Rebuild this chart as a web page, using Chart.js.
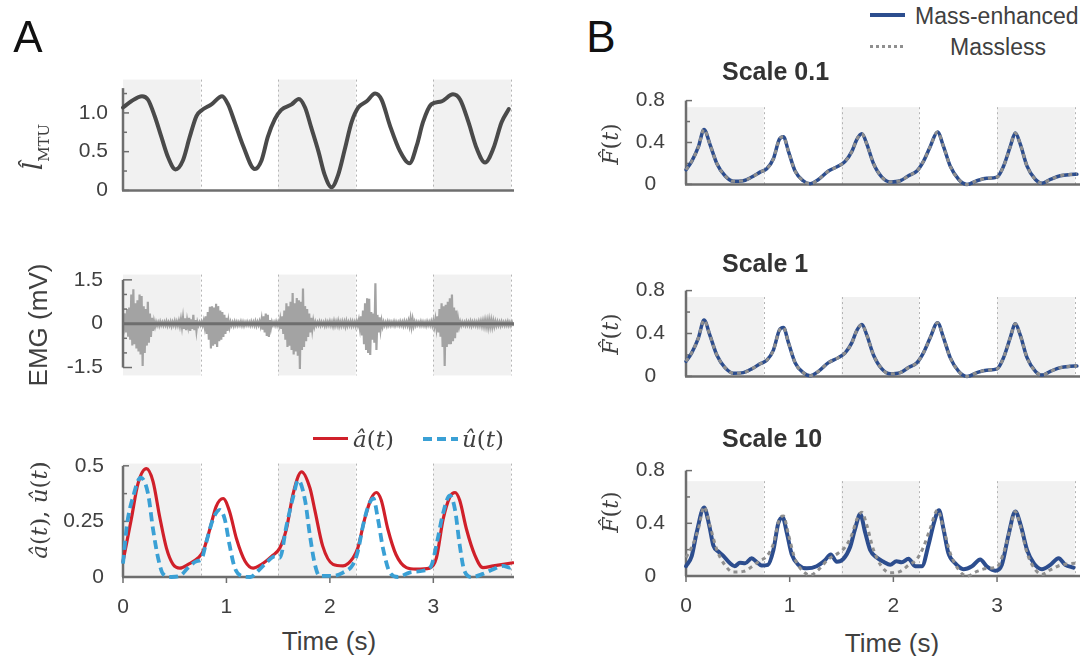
<!DOCTYPE html>
<html>
<head>
<meta charset="utf-8">
<title>Muscle model: activation and force</title>
<script src="https://cdn.jsdelivr.net/npm/chart.js@4.4.1/dist/chart.umd.min.js"></script>
<style>
  html, body { margin: 0; background: #fff; }
  #fig { position: relative; width: 1089px; height: 656px; overflow: hidden;
         font-family: 'Liberation Sans', Arial, sans-serif; color: #404040; }
  #fig canvas { position: absolute; }
  .lbl { position: absolute; white-space: nowrap; line-height: 1; }
  .c { transform: translate(-50%, -50%); }
  .cy { transform: translateY(-50%); }
  .rot { transform: translate(-50%, -50%) rotate(-90deg); }
  .math { font-family: 'DejaVu Serif', 'Liberation Serif', serif; }
  .panel { font-size: 44px; color: #111; }
  .stitle { font-size: 25px; font-weight: bold; color: #333; }
  .axt { font-size: 26px; }
  .leg { font-size: 23px; }
  .swatch { position: absolute; width: 35px; }
</style>
</head>
<body>
<div id="fig">
  <canvas id="cLen" width="514" height="150" style="left:0;top:60px"></canvas>
  <canvas id="cEmg" width="514" height="150" style="left:0;top:250px"></canvas>
  <canvas id="cAct" width="514" height="180" style="left:0;top:440px"></canvas>
  <canvas id="cF01" width="520" height="135" style="left:560px;top:75px"></canvas>
  <canvas id="cF1" width="520" height="137" style="left:560px;top:265px"></canvas>
  <canvas id="cF10" width="520" height="175" style="left:560px;top:445px"></canvas>

  <div class="lbl panel c" style="left:28px;top:37px">A</div>
  <div class="lbl panel c" style="left:601px;top:37px">B</div>

  <div class="lbl rot math" style="left:36px;top:147px;font-size:26px"><i>l&#770;</i><sub style="font-size:15px">MTU</sub></div>
  <div class="lbl rot axt" style="left:38px;top:325px">EMG (mV)</div>
  <div class="lbl rot math" style="left:39px;top:510px;font-size:23px"><i>â</i>(<i>t</i>), <i>û</i>(<i>t</i>)</div>
  <div class="lbl axt c" style="left:329px;top:641px">Time (s)</div>

  <div class="swatch" style="left:313px;top:437px;height:3px;background:#d0202a"></div>
  <div class="lbl math leg cy" style="left:353px;top:439px"><i>â</i>(<i>t</i>)</div>
  <div class="swatch" style="left:423px;top:437px;height:4px;background:repeating-linear-gradient(to right,#3aa0d5 0 9px,transparent 9px 14px)"></div>
  <div class="lbl math leg cy" style="left:462px;top:439px"><i>û</i>(<i>t</i>)</div>

  <div class="swatch" style="left:870px;top:13px;height:4px;background:#2c4d8e"></div>
  <div class="lbl leg cy" style="left:915px;top:16px">Mass-enhanced</div>
  <div class="swatch" style="left:870px;top:45px;height:3px;background:repeating-linear-gradient(to right,#8f8f8f 0 3px,transparent 3px 6px)"></div>
  <div class="lbl leg c" style="left:998px;top:47px">Massless</div>

  <div class="lbl stitle cy" style="left:722px;top:71px">Scale 0.1</div>
  <div class="lbl stitle cy" style="left:722px;top:263px">Scale 1</div>
  <div class="lbl stitle cy" style="left:722px;top:438px">Scale 10</div>
  <div class="lbl rot math" style="left:611px;top:144px;font-size:22px"><i>F&#770;</i>(<i>t</i>)</div>
  <div class="lbl rot math" style="left:611px;top:334px;font-size:22px"><i>F&#770;</i>(<i>t</i>)</div>
  <div class="lbl rot math" style="left:611px;top:512px;font-size:22px"><i>F&#770;</i>(<i>t</i>)</div>
  <div class="lbl axt c" style="left:892px;top:643px">Time (s)</div>
</div>

<script>
// gait phases (shaded) and time axis
const phaseBands = [[0, 0.75], [1.5, 2.25], [3.0, 3.75]];
const phaseEdges = [0.75, 1.5, 2.25, 3.0, 3.75];
const timeTicks = [0, 1, 2, 3];

// normalised MTU length
const lenTime = [0, 0.08, 0.184, 0.242, 0.306, 0.371, 0.435, 0.507, 0.58, 0.645,
  0.71, 0.758, 0.855, 0.958, 1.016, 1.08, 1.16, 1.275, 1.34, 1.40,
  1.468, 1.53, 1.63, 1.70, 1.76, 1.82, 1.89, 1.95, 2.016, 2.08,
  2.146, 2.21, 2.275, 2.356, 2.437, 2.50, 2.58, 2.68, 2.77, 2.84,
  2.90, 2.98, 3.08, 3.19, 3.26, 3.34, 3.42, 3.50, 3.58, 3.66, 3.73];
const lenValue = [1.07, 1.15, 1.216, 1.17, 0.96, 0.69, 0.43, 0.27, 0.39, 0.69,
  0.96, 1.03, 1.11, 1.216, 1.11, 0.88, 0.58, 0.276, 0.39, 0.69,
  0.92, 1.04, 1.11, 1.18, 1.07, 0.81, 0.50, 0.20, 0.04, 0.20,
  0.54, 0.88, 1.07, 1.15, 1.25, 1.17, 0.84, 0.50, 0.35, 0.58,
  0.88, 1.11, 1.15, 1.24, 1.17, 0.88, 0.54, 0.36, 0.54, 0.88, 1.05];
const lenTicks = [0, 0.5, 1.0];
const lenTickLabels = ['0', '0.5', '1.0'];
const lenMinor = [0.25, 0.75, 1.25];

// EMG envelope, one high/low pair every emgStep seconds
const emgStep = 0.02;
const emgHigh = [
  0.10, 0.35, 0.50, 0.55, 1.00, 1.18, 0.70, 0.80, 1.00, 0.95,
  0.60, 0.50, 0.75, 0.35, 0.20, 0.08, 0.06, 0.05, 0.07, 0.05,
  0.06, 0.08, 0.05, 0.07, 0.06, 0.09, 0.07, 0.10, 0.15, 0.20,
  0.18, 0.12, 0.20, 0.15, 0.30, 0.12, 0.06, 0.05, 0.07, 0.10,
  0.25, 0.40, 0.58, 0.60, 0.55, 0.68, 0.60, 0.45, 0.40, 0.30,
  0.20, 0.10, 0.06, 0.05, 0.07, 0.06, 0.05, 0.07, 0.06, 0.05,
  0.06, 0.05, 0.07, 0.06, 0.08, 0.06, 0.08, 0.15, 0.25, 0.35,
  0.30, 0.12, 0.06, 0.05, 0.07, 0.06, 0.15, 0.25, 0.45, 0.70,
  0.60, 0.75, 1.05, 0.70, 0.88, 0.80, 0.75, 1.20, 0.60, 0.50,
  0.35, 0.20, 0.10, 0.06, 0.05, 0.07, 0.06, 0.05, 0.07, 0.06,
  0.08, 0.06, 0.09, 0.07, 0.10, 0.06, 0.08, 0.07, 0.09, 0.06,
  0.08, 0.07, 0.06, 0.08, 0.12, 0.25, 0.45, 0.70, 0.87, 0.85,
  0.40, 0.35, 1.38, 0.30, 0.22, 0.10, 0.06, 0.05, 0.07, 0.06,
  0.05, 0.07, 0.06, 0.05, 0.07, 0.06, 0.08, 0.07, 0.10, 0.18,
  0.15, 0.07, 0.06, 0.05, 0.07, 0.06, 0.05, 0.07, 0.06, 0.08,
  0.10, 0.15, 0.25, 0.50, 0.70, 0.60, 0.65, 0.75, 0.87, 1.00,
  0.55, 0.45, 0.15, 0.07, 0.06, 0.05, 0.07, 0.06, 0.08, 0.06,
  0.07, 0.06, 0.08, 0.09, 0.10, 0.12, 0.11, 0.13, 0.12, 0.10,
  0.08, 0.07, 0.06, 0.07, 0.05, 0.06, 0.07, 0.05, 0.06];
const emgLow = [
  -0.10, -0.30, -0.45, -0.55, -0.75, -0.70, -0.85, -0.95, -1.05, -1.45,
  -1.00, -0.75, -0.65, -0.45, -0.25, -0.10, -0.06, -0.07, -0.05, -0.06,
  -0.05, -0.07, -0.06, -0.08, -0.05, -0.07, -0.06, -0.08, -0.12, -0.18,
  -0.22, -0.10, -0.25, -0.18, -0.22, -0.25, -0.06, -0.05, -0.06, -0.12,
  -0.35, -0.55, -0.85, -0.75, -0.70, -0.80, -0.60, -0.55, -0.45, -0.35,
  -0.25, -0.12, -0.06, -0.07, -0.05, -0.06, -0.05, -0.06, -0.07, -0.05,
  -0.05, -0.06, -0.05, -0.06, -0.07, -0.05, -0.08, -0.20, -0.30, -0.42,
  -0.45, -0.15, -0.05, -0.06, -0.06, -0.07, -0.18, -0.35, -0.55, -0.80,
  -0.75, -0.90, -1.05, -0.95, -1.10, -1.55, -0.90, -0.80, -0.60, -0.45,
  -0.30, -0.20, -0.10, -0.06, -0.05, -0.06, -0.05, -0.07, -0.06, -0.05,
  -0.06, -0.08, -0.07, -0.06, -0.08, -0.07, -0.06, -0.09, -0.07, -0.06,
  -0.07, -0.06, -0.08, -0.06, -0.15, -0.40, -0.70, -0.90, -1.00, -1.07,
  -0.55, -0.65, -0.90, -0.30, -0.20, -0.10, -0.06, -0.07, -0.05, -0.06,
  -0.05, -0.06, -0.05, -0.06, -0.05, -0.07, -0.06, -0.06, -0.08, -0.10,
  -0.08, -0.06, -0.05, -0.06, -0.05, -0.06, -0.07, -0.05, -0.06, -0.07,
  -0.10, -0.15, -0.30, -0.45, -0.80, -1.45, -0.80, -0.70, -0.70, -0.60,
  -0.50, -0.30, -0.10, -0.06, -0.05, -0.06, -0.05, -0.06, -0.07, -0.05,
  -0.06, -0.07, -0.06, -0.08, -0.09, -0.10, -0.12, -0.10, -0.11, -0.09,
  -0.07, -0.06, -0.07, -0.05, -0.06, -0.05, -0.06, -0.06, -0.05];
const emgTicks = [-1.5, 0, 1.5];
const emgTickLabels = ['-1.5', '0', '1.5'];
const emgMinor = [-1, -0.5, 0.5, 1];

// activation a(t) and excitation u(t)
const actTime = [0, 0.08, 0.145, 0.226, 0.29, 0.355, 0.42, 0.484, 0.55, 0.63,
  0.726, 0.774, 0.84, 0.90, 0.968, 1.03, 1.097, 1.18, 1.258, 1.34,
  1.436, 1.516, 1.58, 1.645, 1.726, 1.807, 1.855, 1.93, 2.03, 2.127,
  2.224, 2.27, 2.336, 2.40, 2.45, 2.497, 2.56, 2.64, 2.74, 2.836,
  2.965, 3.03, 3.095, 3.16, 3.21, 3.255, 3.32, 3.40, 3.48, 3.58, 3.675, 3.77];
const actValue = [0.07, 0.26, 0.42, 0.487, 0.43, 0.27, 0.13, 0.057, 0.04, 0.057,
  0.086, 0.115, 0.216, 0.317, 0.353, 0.295, 0.172, 0.071, 0.04, 0.057,
  0.093, 0.13, 0.216, 0.375, 0.473, 0.40, 0.30, 0.14, 0.057, 0.05,
  0.086, 0.13, 0.26, 0.353, 0.38, 0.345, 0.216, 0.10, 0.042, 0.035,
  0.04, 0.086, 0.26, 0.36, 0.38, 0.345, 0.216, 0.10, 0.042, 0.05, 0.057, 0.064];
const excTime = [0, 0.04, 0.097, 0.17, 0.242, 0.29, 0.339, 0.387, 0.468, 0.55,
  0.63, 0.71, 0.758, 0.806, 0.87, 0.936, 0.984, 1.03, 1.08, 1.145,
  1.23, 1.307, 1.40, 1.468, 1.516, 1.58, 1.645, 1.694, 1.76, 1.807,
  1.855, 1.90, 2.03, 2.127, 2.224, 2.27, 2.32, 2.37, 2.42, 2.465,
  2.513, 2.58, 2.66, 2.77, 2.90, 2.98, 3.03, 3.095, 3.16, 3.21,
  3.255, 3.30, 3.37, 3.48, 3.58, 3.675, 3.74, 3.77];
const excValue = [0.06, 0.24, 0.36, 0.447, 0.375, 0.216, 0.086, 0.014, 0.0, 0.005,
  0.042, 0.071, 0.08, 0.158, 0.26, 0.302, 0.26, 0.144, 0.042, 0.005,
  0.0, 0.028, 0.071, 0.093, 0.086, 0.23, 0.36, 0.435, 0.345, 0.187,
  0.057, 0.005, 0.005, 0.02, 0.057, 0.115, 0.23, 0.317, 0.353, 0.26,
  0.13, 0.02, 0.0, 0.02, 0.028, 0.05, 0.144, 0.288, 0.367, 0.302,
  0.144, 0.028, 0.0, 0.014, 0.035, 0.05, 0.042, 0.055];
const actTicks = [0, 0.25, 0.5];
const actTickLabels = ['0', '0.25', '0.5'];
const actMinor = [0.125, 0.375];

// normalised force; massless model is the same at every scale
const forceTime = [0, 0.055, 0.12, 0.174, 0.23, 0.297, 0.376, 0.457, 0.553, 0.634,
  0.714, 0.779, 0.843, 0.90, 0.94, 0.988, 1.052, 1.13, 1.197, 1.277,
  1.374, 1.47, 1.535, 1.60, 1.648, 1.696, 1.744, 1.808, 1.889, 1.97,
  2.066, 2.146, 2.227, 2.29, 2.355, 2.426, 2.484, 2.548, 2.63, 2.71,
  2.806, 2.90, 3.0, 3.063, 3.127, 3.176, 3.224, 3.289, 3.37, 3.433,
  3.514, 3.61, 3.707, 3.77];
const forceMassless = [0.14, 0.22, 0.36, 0.525, 0.385, 0.2, 0.082, 0.03, 0.035, 0.07,
  0.117, 0.15, 0.245, 0.43, 0.455, 0.315, 0.128, 0.035, 0.007, 0.047,
  0.128, 0.175, 0.22, 0.315, 0.43, 0.483, 0.385, 0.2, 0.07, 0.024,
  0.035, 0.082, 0.128, 0.22, 0.36, 0.50, 0.36, 0.175, 0.047, 0.0,
  0.035, 0.058, 0.07, 0.175, 0.36, 0.49, 0.385, 0.175, 0.047, 0.012,
  0.047, 0.082, 0.094, 0.097];
// mass-enhanced at scale 0.1 and 1 overlays the massless curve
const forceEnhanced01 = forceMassless;
const forceEnhanced1 = forceMassless;
const enh10Time = [0, 0.055, 0.103, 0.174, 0.225, 0.264, 0.312, 0.36, 0.425, 0.47,
  0.52, 0.57, 0.634, 0.68, 0.73, 0.79, 0.843, 0.89, 0.933, 0.972,
  1.02, 1.084, 1.165, 1.26, 1.34, 1.396, 1.454, 1.518, 1.583, 1.63,
  1.68, 1.728, 1.776, 1.84, 1.905, 1.97, 2.03, 2.08, 2.146, 2.21,
  2.275, 2.34, 2.39, 2.44, 2.484, 2.53, 2.597, 2.677, 2.758, 2.838,
  2.9, 2.983, 3.046, 3.11, 3.176, 3.23, 3.29, 3.355, 3.433, 3.514,
  3.594, 3.658, 3.738];
const forceEnhanced10 = [0.074, 0.15, 0.33, 0.52, 0.38, 0.23, 0.186, 0.153, 0.096, 0.074,
  0.10, 0.096, 0.135, 0.108, 0.08, 0.085, 0.197, 0.40, 0.444, 0.33,
  0.164, 0.085, 0.058, 0.074, 0.119, 0.164, 0.108, 0.13, 0.22, 0.355,
  0.47, 0.33, 0.197, 0.14, 0.108, 0.085, 0.112, 0.105, 0.13, 0.074,
  0.074, 0.24, 0.40, 0.50, 0.355, 0.175, 0.096, 0.052, 0.074, 0.126,
  0.074, 0.04, 0.085, 0.31, 0.49, 0.38, 0.197, 0.096, 0.052, 0.085,
  0.135, 0.085, 0.063];
const forceTicks = [0, 0.4, 0.8];
const forceTickLabels = ['0', '0.4', '0.8'];
const forceMinor = [0.2, 0.6];

const FONT = "'Liberation Sans', Arial, sans-serif";
const AXIS = '#6e6e6e';
const TEXT = '#404040';

function pairs(xs, ys) {
  const n = Math.min(xs.length, ys.length);
  const out = [];
  for (let i = 0; i < n; i++) out.push({ x: xs[i], y: ys[i] });
  return out;
}

function strokeLine(ctx, x0, y0, x1, y1) {
  ctx.beginPath();
  ctx.moveTo(x0, y0);
  ctx.lineTo(x1, y1);
  ctx.stroke();
}

// shaded phases, dashed phase edges and MATLAB-like axes
const framePlugin = {
  id: 'frame',
  beforeDatasetsDraw(chart, args, o) {
    const { ctx, scales: { x, y } } = chart;
    const top = y.getPixelForValue(o.bandTop);
    const bot = y.getPixelForValue(o.bandBottom);
    ctx.save();
    ctx.fillStyle = '#f1f1f1';
    phaseBands.forEach(([s, e]) => {
      const x0 = x.getPixelForValue(s), x1 = x.getPixelForValue(e);
      ctx.fillRect(x0, top, x1 - x0, bot - top);
    });
    ctx.strokeStyle = '#b4b4b4';
    ctx.lineWidth = 1;
    ctx.setLineDash([2, 3]);
    phaseEdges.forEach(t => {
      const px = Math.round(x.getPixelForValue(t)) + 0.5;
      strokeLine(ctx, px, top, px, bot);
    });
    ctx.restore();
    if (!o.axesOnTop) drawAxes(chart, o);
  },
  afterDatasetsDraw(chart, args, o) {
    if (o.axesOnTop) drawAxes(chart, o);
  }
};

function drawAxes(chart, o) {
  const { ctx, chartArea: a, scales: { x, y } } = chart;
  const left = a.left;
  const base = y.getPixelForValue(o.baseAt);
  ctx.save();
  ctx.strokeStyle = AXIS;
  ctx.lineWidth = o.baseWidth || 2.5;
  ctx.lineCap = 'butt';
  strokeLine(ctx, left - 1, base, a.right, base);
  ctx.lineWidth = 2.5;
  strokeLine(ctx, left, y.getPixelForValue(o.axisBottom), left, y.getPixelForValue(o.axisTop));
  ctx.lineWidth = 1.5;
  o.major.forEach(v => {
    const py = y.getPixelForValue(v);
    strokeLine(ctx, left, py, left + (o.capAt && o.capAt.includes(v) ? 9 : 6), py);
  });
  o.minor.forEach(v => {
    const py = y.getPixelForValue(v);
    strokeLine(ctx, left, py, left + 4, py);
  });
  if (o.xTicks) {
    timeTicks.forEach(t => {
      const px = x.getPixelForValue(t);
      strokeLine(ctx, px, base, px, base + 6);
    });
  }
  ctx.restore();
}

function makeChart(id, cfg) {
  return new Chart(document.getElementById(id), {
    type: 'line',
    data: { datasets: cfg.datasets },
    options: {
      responsive: false,
      animation: false,
      devicePixelRatio: 1,
      layout: { padding: { top: cfg.padTop, bottom: cfg.padBottom || 0, left: 0, right: 0 } },
      elements: {
        point: { radius: 0 },
        line: { cubicInterpolationMode: 'monotone', borderCapStyle: 'round', borderJoinStyle: 'round' }
      },
      plugins: { legend: { display: false }, tooltip: { enabled: false }, frame: cfg.frame },
      scales: {
        x: {
          type: 'linear', min: 0, max: cfg.xMax, display: !!cfg.showTime,
          grid: { display: false }, border: { display: false },
          afterBuildTicks: s => { s.ticks = timeTicks.map(v => ({ value: v })); },
          afterFit: s => { s.height = cfg.xAxisHeight || 0; },
          ticks: { font: { family: FONT, size: 21 }, color: TEXT, padding: 10, maxRotation: 0, autoSkip: false,
                   callback: v => String(v) }
        },
        y: {
          type: 'linear', min: cfg.yMin, max: cfg.yMax,
          grid: { display: false }, border: { display: false },
          afterBuildTicks: s => { s.ticks = cfg.yTicks.map(v => ({ value: v })); },
          afterFit: s => { s.width = cfg.yAxisWidth; },
          ticks: { font: { family: FONT, size: 21 }, color: TEXT, padding: cfg.yPad,
                   crossAlign: cfg.crossAlign || 'near',
                   callback: v => cfg.yTickLabels[cfg.yTicks.indexOf(v)] }
        }
      }
    },
    plugins: [framePlugin]
  });
}

function emgPoints() {
  const pts = [];
  emgHigh.forEach((hi, i) => {
    const t = i * emgStep;
    pts.push({ x: t, y: hi }, { x: t + emgStep / 2, y: emgLow[i] });
  });
  return pts;
}

function forceDatasets(enhancedTime, enhanced, width) {
  return [
    { data: pairs(forceTime, forceMassless), borderColor: '#8f8f8f', borderWidth: 3,
      borderDash: [4, 4], borderCapStyle: 'butt', clip: 6 },
    { data: pairs(enhancedTime, enhanced), borderColor: '#2c4d8e', borderWidth: width, clip: 6 }
  ];
}

function init() {
  makeChart('cLen', {
    xMax: 3.78, yMin: 0, yMax: 1.43, padTop: 15, padBottom: 9, yAxisWidth: 123, yPad: 7,
    yTicks: lenTicks, yTickLabels: lenTickLabels,
    frame: { bandTop: 1.43, bandBottom: 0, axisTop: 1.32, axisBottom: 0, baseAt: 0,
             major: lenTicks, minor: lenMinor },
    datasets: [{ data: pairs(lenTime, lenValue), borderColor: '#4a4a4a', borderWidth: 4, clip: 6 }]
  });

  makeChart('cEmg', {
    xMax: 3.78, yMin: -1.77, yMax: 1.68, padTop: 12, padBottom: 10, yAxisWidth: 123, yPad: 12,
    yTicks: emgTicks, yTickLabels: emgTickLabels,
    frame: { bandTop: 1.68, bandBottom: -1.77, axisTop: 1.5, axisBottom: -1.5, baseAt: 0, baseWidth: 3,
             major: emgTicks, minor: emgMinor, capAt: [-1.5, 1.5], axesOnTop: true },
    datasets: [{ data: emgPoints(), borderColor: '#a3a3a3', borderWidth: 2.2,
                 cubicInterpolationMode: 'default', tension: 0, borderJoinStyle: 'miter' }]
  });

  makeChart('cAct', {
    xMax: 3.78, yMin: 0, yMax: 0.51, padTop: 19, showTime: true, xAxisHeight: 43,
    yAxisWidth: 123, yPad: 11, yTicks: actTicks, yTickLabels: actTickLabels,
    frame: { bandTop: 0.51, bandBottom: 0, axisTop: 0.5, axisBottom: 0, baseAt: 0,
             major: actTicks, minor: actMinor, xTicks: true },
    datasets: [
      { data: pairs(excTime, excValue), borderColor: '#3aa0d5', borderWidth: 3.8,
        borderDash: [9, 5], borderCapStyle: 'butt', clip: 6 },
      { data: pairs(actTime, actValue), borderColor: '#d0202a', borderWidth: 3.2, clip: 6 }
    ]
  });

  const bCommon = { xMax: 3.8, yMin: 0, yMax: 0.8, yAxisWidth: 126, yPad: 13, crossAlign: 'center',
                    yTicks: forceTicks, yTickLabels: forceTickLabels };
  const bFrame = { bandBottom: 0, axisTop: 0.8, axisBottom: 0, baseAt: 0, major: forceTicks, minor: forceMinor };

  makeChart('cF01', Object.assign({}, bCommon, {
    padTop: 12, padBottom: 8,
    frame: Object.assign({}, bFrame, { bandTop: 0.737 }),
    datasets: forceDatasets(forceTime, forceEnhanced01, 3.5)
  }));
  makeChart('cF1', Object.assign({}, bCommon, {
    padTop: 12, padBottom: 8,
    frame: Object.assign({}, bFrame, { bandTop: 0.74 }),
    datasets: forceDatasets(forceTime, forceEnhanced1, 3.5)
  }));
  makeChart('cF10', Object.assign({}, bCommon, {
    padTop: 12, showTime: true, xAxisHeight: 44,
    frame: Object.assign({}, bFrame, { bandTop: 0.72, xTicks: true }),
    datasets: forceDatasets(enh10Time, forceEnhanced10, 4)
  }));
}

init();
</script>
</body>
</html>
